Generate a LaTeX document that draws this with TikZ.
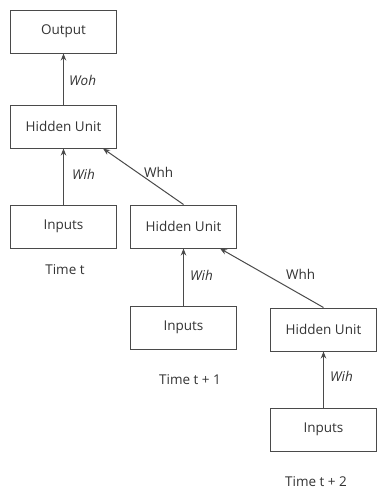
\documentclass[tikz,border=0pt]{standalone}
\usepackage{fontspec}
\setmainfont{Open Sans}
\usetikzlibrary{arrows.meta,calc}
\definecolor{rnnline}{HTML}{4A4A4A}
\definecolor{rnntext}{HTML}{333333}
\newcommand{\rnnlab}{\fontsize{13.5}{16}\selectfont}
\tikzset{
  unitbox/.style={draw=rnnline,line width=1pt,minimum width=106pt,minimum height=43pt,
    inner sep=0pt,text=rnntext,font=\rnnlab},
  feed/.style={draw=rnnline,line width=1pt,-{Stealth[length=7pt,width=5.5pt]}},
  wlab/.style={anchor=west,inner sep=0pt,text=rnntext,font=\rnnlab\itshape},
  hlab/.style={anchor=west,inner sep=0pt,text=rnntext,font=\rnnlab},
  timelab/.style={inner sep=0pt,text=rnntext,font=\rnnlab}
}
\begin{document}
\begin{tikzpicture}[x=1pt,y=-1pt]
\useasboundingbox (0,0) rectangle (377,491);
% boxes
\node[unitbox] (out) at (63.5,31.5) {Output};
\node[unitbox] (hid1) at (63.5,126.5) {Hidden Unit};
\node[unitbox] (inp1) at (63.5,226.5) {Inputs};
\node[unitbox] (hid2) at (183.5,226.5) {Hidden Unit};
\node[unitbox] (inp2) at (183.5,327.5) {Inputs};
\node[unitbox] (hid3) at (323.5,329.5) {Hidden Unit};
\node[unitbox] (inp3) at (323.5,429.5) {Inputs};
% time labels
\node[timelab] (t1) at (65,270) {Time t};
\node[timelab] (t2) at (190,380) {Time t + 1};
\node[timelab] (t3) at (316,482) {Time t + 2};
% connectors
\draw[feed] (hid1) -- (out);
\draw[feed] (inp1) -- (hid1);
\draw[feed] (inp2) -- (hid2);
\draw[feed] (inp3) -- (hid3);
\draw[feed] (hid2.north) -- ($(hid1.south east)+(-14,0)$);
\draw[feed] (hid3.north) -- ($(hid2.south east)+(-17,0)$);
% weights
\node[wlab] (woh) at (69,80) {Woh};
\node[wlab] (wih1) at (72,174) {Wih};
\node[hlab] (whh1) at (144,172) {Whh};
\node[wlab] (wih2) at (190,275) {Wih};
\node[hlab] (whh2) at (286,274) {Whh};
\node[wlab] (wih3) at (330,376) {Wih};
\end{tikzpicture}
\end{document}
